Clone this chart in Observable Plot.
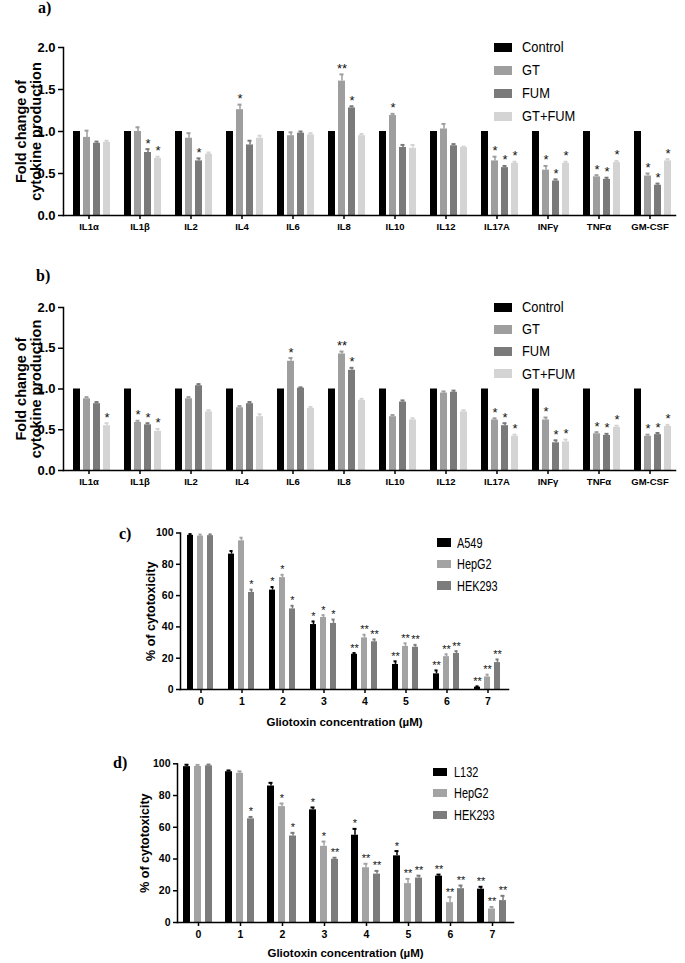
<!DOCTYPE html>
<html>
<head>
<meta charset="utf-8">
<script src="https://cdn.jsdelivr.net/npm/d3@7"></script>
<script src="https://cdn.jsdelivr.net/npm/@observablehq/plot@0.6"></script>
<style>
  body { margin: 0; background: #fff; }
  #root { position: relative; width: 685px; height: 963px; overflow: hidden; background: #fff; }
  .plabel { position: absolute; font-family: "Liberation Serif", "Times New Roman", serif; font-weight: bold; font-size: 16px; line-height: 16px; }
  .leg { position: absolute; display: flex; align-items: center; white-space: nowrap; }
  .sw { display: inline-block; flex: none; }
  .lt { display: inline-block; transform-origin: left center; }
</style>
</head>
<body>
<div id="root"></div>
<script>
// ---------- Panels a & b: cytokine fold change ----------
const cytokines = ["IL1α","IL1β","IL2","IL4","IL6","IL8","IL10","IL12","IL17A","INFγ","TNFα","GM-CSF"];
const treatments = ["Control","GT","FUM","GT+FUM"];
const treatmentColors = ["#000000","#9e9e9e","#7a7a7a","#d4d4d4"];
const foldTicks = [0, 0.5, 1, 1.5, 2];

// panel a
const aControl    = [1,1,1,1,1,1,1,1,1,1,1,1];
const aControlErr = [0,0,0,0,0,0,0,0,0,0,0,0];
const aGT     = [0.93,1.00,0.92,1.26,0.95,1.60,1.19,1.03,0.65,0.54,0.46,0.47];
const aGTErr  = [0.08,0.05,0.06,0.06,0.04,0.08,0.02,0.06,0.05,0.05,0.02,0.03];
const aFUM    = [0.86,0.75,0.65,0.84,0.98,1.28,0.81,0.83,0.57,0.41,0.43,0.36];
const aFUMErr = [0.02,0.04,0.03,0.05,0.02,0.02,0.03,0.02,0.02,0.02,0.02,0.02];
const aMix    = [0.87,0.68,0.73,0.92,0.96,0.95,0.80,0.81,0.62,0.62,0.63,0.65];
const aMixErr = [0.02,0.02,0.02,0.03,0.02,0.02,0.04,0.01,0.02,0.02,0.02,0.02];
const aSigControl = ["","","","","","","","","","","",""];
const aSigGT  = ["","","","*","","**","*","","*","*","*","*"];
const aSigFUM = ["","*","*","","","*","","","*","*","*","*"];
const aSigMix = ["","*","","","","","","","*","*","*","*"];

// panel b
const bControl    = [1,1,1,1,1,1,1,1,1,1,1,1];
const bControlErr = [0,0,0,0,0,0,0,0,0,0,0,0];
const bGT     = [0.88,0.59,0.88,0.77,1.34,1.43,0.66,0.95,0.62,0.62,0.45,0.42];
const bGTErr  = [0.02,0.02,0.02,0.02,0.04,0.03,0.02,0.02,0.02,0.03,0.02,0.02];
const bFUM    = [0.82,0.56,1.04,0.82,1.01,1.23,0.84,0.96,0.55,0.34,0.43,0.44];
const bFUMErr = [0.02,0.02,0.02,0.02,0.01,0.03,0.02,0.02,0.03,0.03,0.02,0.02];
const bMix    = [0.55,0.48,0.72,0.66,0.76,0.86,0.62,0.72,0.42,0.35,0.53,0.54];
const bMixErr = [0.03,0.03,0.02,0.03,0.02,0.02,0.02,0.02,0.02,0.03,0.02,0.02];
const bSigControl = ["","","","","","","","","","","",""];
const bSigGT  = ["","*","","","*","**","","","*","*","*","*"];
const bSigFUM = ["","*","","","","*","","","*","*","*","*"];
const bSigMix = ["*","*","","","","","","","*","*","*","*"];

// ---------- Panels c & d: cytotoxicity ----------
const concentrations = ["0","1","2","3","4","5","6","7"];
const cellsC = ["A549","HepG2","HEK293"];
const cellsD = ["L132","HepG2","HEK293"];
const cellColors = ["#000000","#a3a3a3","#7c7c7c"];
const pctTicks = [0, 20, 40, 60, 80, 100];

const cA549     = [98.5,86.5,63.5,41.5,22.5,16.0,10.0,1.5];
const cA549Err  = [0.8,2.0,2.0,2.0,0.8,2.0,2.2,0.5];
const cHepG2    = [98.0,95.0,71.5,46.0,33.0,27.5,21.0,8.0];
const cHepG2Err = [1.0,2.0,1.8,1.5,2.0,2.0,1.5,1.5];
const cHEK      = [98.3,62.0,51.5,42.2,30.5,27.0,23.0,17.2];
const cHEKErr   = [0.8,1.8,2.0,2.5,1.5,1.5,1.5,2.0];
const cSigA549  = ["","","*","*","**","**","**","**"];
const cSigHepG2 = ["","","*","*","**","**","**","**"];
const cSigHEK   = ["","*","*","*","**","**","**","**"];

const dL132     = [98.2,95.0,86.0,71.0,55.0,42.0,29.2,21.0];
const dL132Err  = [1.2,0.8,2.0,1.5,4.0,3.0,1.0,1.5];
const dHepG2    = [98.3,94.0,73.0,48.0,34.5,24.5,12.5,8.5];
const dHepG2Err = [1.0,1.2,2.0,3.0,2.5,3.0,3.5,1.3];
const dHEK      = [98.7,65.3,54.5,39.8,30.5,28.0,21.3,13.8];
const dHEKErr   = [0.8,1.2,2.0,1.0,2.0,1.5,2.0,3.0];
const dSigL132  = ["","","","*","*","*","**","**"];
const dSigHepG2 = ["","","*","*","**","**","**","**"];
const dSigHEK   = ["","*","*","**","**","**","**","**"];

const sansFont = '"Liberation Sans", Arial, Helvetica, sans-serif';

function buildRows(groups, series, values, errors, sigs) {
  const rows = [];
  groups.forEach((g, i) => series.forEach((s, j) => {
    rows.push({group: g, series: s, value: values[j][i], err: errors[j][i], sig: sigs[j][i]});
  }));
  return rows;
}

function groupedBars(cfg) {
  const rows = buildRows(cfg.groups, cfg.series, cfg.values, cfg.errors, cfg.sigs);
  const withErr = rows.filter(d => d.err > 0);
  const withSig = rows.filter(d => d.sig);
  const top = d => d.value + d.err;
  return Plot.plot({
    width: 685,
    height: cfg.height,
    marginLeft: cfg.marginLeft,
    marginRight: cfg.marginRight,
    marginTop: cfg.marginTop,
    marginBottom: cfg.marginBottom,
    style: {background: "transparent", color: "#000", fontFamily: sansFont, overflow: "visible"},
    fx: {domain: cfg.groups, paddingInner: 0, paddingOuter: 0},
    x: {domain: cfg.series, axis: null, paddingInner: cfg.pi, paddingOuter: cfg.po, align: cfg.align},
    y: {domain: cfg.yDomain},
    color: {domain: cfg.series, range: cfg.colors},
    marks: [
      Plot.barY(rows, {fx: "group", x: "series", y: "value", fill: "series"}),
      Plot.ruleX(withErr, {fx: "group", x: "series", y1: "value", y2: top, stroke: "series", strokeWidth: 1.5}),
      Plot.tickY(withErr, {fx: "group", x: "series", y: top, stroke: "series", strokeWidth: 2, insetLeft: 1.5, insetRight: 1.5}),
      Plot.text(withSig, {fx: "group", x: "series", y: top, text: "sig", lineAnchor: "bottom", dy: cfg.starDy, fontSize: cfg.starSize, fill: "#111"}),
      Plot.axisY({ticks: cfg.yTicks, tickFormat: cfg.yFormat, tickSize: cfg.yTickSize, tickPadding: 3, fontSize: cfg.yTickFont, fontWeight: "bold", label: null, strokeWidth: 1.5}),
      Plot.axisFx({anchor: "bottom", tickSize: 4, tickPadding: cfg.xTickPad, fontSize: cfg.xTickFont, fontWeight: "bold", label: null, strokeWidth: 1.5}),
      Plot.frame({anchor: "bottom", facet: "super", strokeWidth: 1.5}),
      Plot.frame({anchor: "left", facet: "super", strokeWidth: 1.5}),
      Plot.text([cfg.yTitle], {facet: "super", frameAnchor: "left", textAnchor: "middle", lineAnchor: "middle", rotate: -90, dx: cfg.yTitleDx, fontSize: cfg.yTitleSize, fontWeight: "bold", lineHeight: 1.08}),
      ...(cfg.xTitle ? [Plot.text([cfg.xTitle], {facet: "super", frameAnchor: "bottom", textAnchor: "middle", lineAnchor: "middle", dy: cfg.xTitleDy, fontSize: cfg.xTitleSize, fontWeight: "bold"})] : [])
    ]
  });
}

const root = document.getElementById("root");

function place(el, top) {
  el.style.position = "absolute";
  el.style.left = "0px";
  el.style.top = top + "px";
  root.appendChild(el);
}

function panelLabel(text, left, top) {
  const d = document.createElement("div");
  d.className = "plabel";
  d.textContent = text;
  d.style.left = left + "px";
  d.style.top = top + "px";
  root.appendChild(d);
}

function legend(names, colors, opt) {
  names.forEach((n, i) => {
    const item = document.createElement("div");
    item.className = "leg";
    item.style.left = opt.left + "px";
    item.style.top = (opt.top + i * opt.step - 10) + "px";
    item.style.height = "20px";
    const sw = document.createElement("span");
    sw.className = "sw";
    sw.style.width = opt.sw + "px";
    sw.style.height = opt.sh + "px";
    sw.style.background = colors[i];
    sw.style.marginRight = opt.gap + "px";
    const tx = document.createElement("span");
    tx.className = "lt";
    tx.textContent = n;
    tx.style.fontFamily = sansFont;
    tx.style.fontSize = opt.size + "px";
    tx.style.color = "#000";
    tx.style.transform = "scaleX(" + opt.squeeze + ")";
    item.appendChild(sw);
    item.appendChild(tx);
    root.appendChild(item);
  });
}

const foldCommon = {
  groups: cytokines, series: treatments, colors: treatmentColors,
  marginLeft: 60, marginRight: 7, marginTop: 47,
  pi: 0.31, po: 0.53, align: 0.7,
  yDomain: [0, 2], yTicks: foldTicks, yFormat: d3.format(".1f"),
  yTickSize: 5, yTickFont: 13, xTickFont: 9.5, xTickPad: 4,
  starDy: -1.5, starSize: 13,
  yTitle: "Fold change of\ncytokine production", yTitleDx: -35, yTitleSize: 14.5
};

// Panel a
place(groupedBars({...foldCommon, height: 245, marginBottom: 30,
  values: [aControl, aGT, aFUM, aMix], errors: [aControlErr, aGTErr, aFUMErr, aMixErr],
  sigs: [aSigControl, aSigGT, aSigFUM, aSigMix]}), 0);
panelLabel("a)", 38, 0);
legend(treatments, treatmentColors, {left: 494, top: 47, step: 23, sw: 18, sh: 9, gap: 10, size: 14, squeeze: 0.92});

// Panel b
place(groupedBars({...foldCommon, height: 235, marginBottom: 25,
  values: [bControl, bGT, bFUM, bMix], errors: [bControlErr, bGTErr, bFUMErr, bMixErr],
  sigs: [bSigControl, bSigGT, bSigFUM, bSigMix]}), 260);
panelLabel("b)", 36, 268);
legend(treatments, treatmentColors, {left: 494, top: 307, step: 22.2, sw: 18, sh: 9, gap: 10, size: 14, squeeze: 0.92});

const pctCommon = {
  groups: concentrations, colors: cellColors,
  yDomain: [0, 100], yTicks: pctTicks, yFormat: d3.format("d"),
  yTickSize: 4, yTickFont: 10.5, xTickFont: 10.5, xTickPad: 4,
  starDy: -1.5, starSize: 11,
  yTitle: "% of cytotoxicity", yTitleSize: 12.5,
  xTitle: "Gliotoxin concentration (µM)", xTitleSize: 11.5
};

// Panel c
place(groupedBars({...pctCommon, series: cellsC, height: 210,
  marginLeft: 178, marginRight: 176, marginTop: 12.5, marginBottom: 41,
  pi: 0.36, po: 0.56, align: 0.5, yTitleDx: -30, xTitleDy: 33,
  values: [cA549, cHepG2, cHEK], errors: [cA549Err, cHepG2Err, cHEKErr],
  sigs: [cSigA549, cSigHepG2, cSigHEK]}), 520);
panelLabel("c)", 119, 526);
legend(cellsC, cellColors, {left: 437, top: 542.5, step: 21.5, sw: 14, sh: 8.5, gap: 6, size: 14, squeeze: 0.78});

// Panel d
place(groupedBars({...pctCommon, series: cellsD, height: 213,
  marginLeft: 173, marginRight: 169, marginTop: 13.3, marginBottom: 41,
  pi: 0.33, po: 0.45, align: 0.5, yTitleDx: -33, xTitleDy: 31,
  values: [dL132, dHepG2, dHEK], errors: [dL132Err, dHepG2Err, dHEKErr],
  sigs: [dSigL132, dSigHepG2, dSigHEK]}), 750);
panelLabel("d)", 113, 755);
legend(cellsD, cellColors, {left: 433, top: 772, step: 21.3, sw: 14, sh: 8, gap: 7, size: 14, squeeze: 0.78});
</script>
</body>
</html>
